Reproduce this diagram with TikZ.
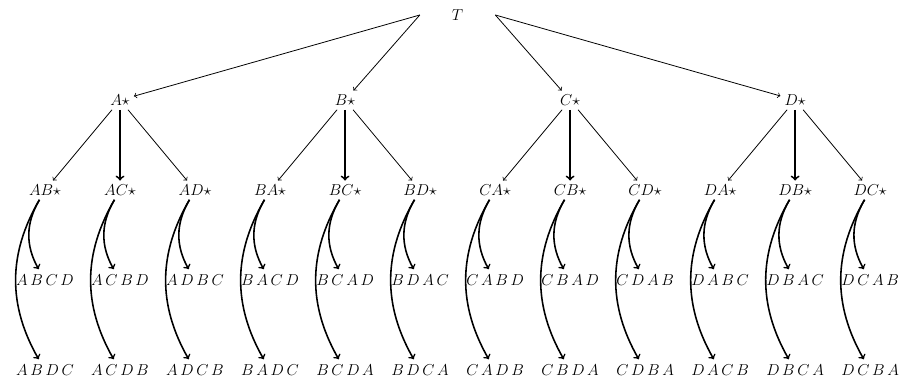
\documentclass[tikz,border=0pt]{standalone}
\usepackage{amssymb}
\usepackage{amsmath}
\usepackage{tikz}
\usetikzlibrary{arrows,calc,positioning}
\tikzset{%
	root/.style     = {minimum width=2cm, inner sep=1pt, font=\wfont}, % top
	part/.style     = {inner sep=3pt, font=\wfont}, % partial word
	full/.style     = {inner sep=4pt, font=\wfont}, % complete word
	branch/.style   = {->, semithick},
	mid/.style      = {->, line width=1.4pt},
	leaf/.style     = {->, line width=1.2pt},
}
\newcommand{\wfont}{\fontsize{12.5pt}{15pt}\selectfont}
\newcommand{\wrd}[4]{$#1\,#2\,#3\,#4$}

\begin{document}
\begin{tikzpicture}[node distance=2cm,>={to[scale=1.4]}]
	\useasboundingbox (-1.2,-5.06) rectangle (22.85,5.07);
	% second row
	\node [part] (ab) {$AB\star$};
	\node [part] (ac) [right of=ab] {$AC\star$};
	\node [part] (ad) [right of=ac] {$AD\star$};
	\node [part] (ba) [right of=ad] {$BA\star$};
	\node [part] (bc) [right of=ba] {$BC\star$};
	\node [part] (bd) [right of=bc] {$BD\star$};
	\node [part] (ca) [right of=bd] {$CA\star$};
	\node [part] (cb) [right of=ca] {$CB\star$};
	\node [part] (cd) [right of=cb] {$CD\star$};
	\node [part] (da) [right of=cd] {$DA\star$};
	\node [part] (db) [right of=da] {$DB\star$};
	\node [part] (dc) [right of=db] {$DC\star$};
	% first row
	\node [part] (a) [above of=ac,node distance=2.4cm] {$A\star$};
	\node [part] (b) [above of=bc,node distance=2.4cm] {$B\star$};
	\node [part] (c) [above of=cb,node distance=2.4cm] {$C\star$};
	\node [part] (d) [above of=db,node distance=2.4cm] {$D\star$};
	\node [root] (t) at ($(b)!0.5!(c)+(0,2.27)$) {$T$};
	% words
	\node [full] (abcd) [below of=ab,node distance=2.4cm] {\wrd ABCD};
	\node [full] (acbd) [below of=ac,node distance=2.4cm] {\wrd ACBD};
	\node [full] (adbc) [below of=ad,node distance=2.4cm] {\wrd ADBC};
	\node [full] (bacd) [below of=ba,node distance=2.4cm] {\wrd BACD};
	\node [full] (bcad) [below of=bc,node distance=2.4cm] {\wrd BCAD};
	\node [full] (bdac) [below of=bd,node distance=2.4cm] {\wrd BDAC};
	\node [full] (cabd) [below of=ca,node distance=2.4cm] {\wrd CABD};
	\node [full] (cbad) [below of=cb,node distance=2.4cm] {\wrd CBAD};
	\node [full] (cdab) [below of=cd,node distance=2.4cm] {\wrd CDAB};
	\node [full] (dabc) [below of=da,node distance=2.4cm] {\wrd DABC};
	\node [full] (dbac) [below of=db,node distance=2.4cm] {\wrd DBAC};
	\node [full] (dcab) [below of=dc,node distance=2.4cm] {\wrd DCAB};
	\node [full] (abdc) [below of=abcd,node distance=2.4cm] {\wrd ABDC};
	\node [full] (acdb) [below of=acbd,node distance=2.4cm] {\wrd ACDB};
	\node [full] (adcb) [below of=adbc,node distance=2.4cm] {\wrd ADCB};
	\node [full] (badc) [below of=bacd,node distance=2.4cm] {\wrd BADC};
	\node [full] (bcda) [below of=bcad,node distance=2.4cm] {\wrd BCDA};
	\node [full] (bdca) [below of=bdac,node distance=2.4cm] {\wrd BDCA};
	\node [full] (cadb) [below of=cabd,node distance=2.4cm] {\wrd CADB};
	\node [full] (cbda) [below of=cbad,node distance=2.4cm] {\wrd CBDA};
	\node [full] (cdba) [below of=cdab,node distance=2.4cm] {\wrd CDBA};
	\node [full] (dacb) [below of=dabc,node distance=2.4cm] {\wrd DACB};
	\node [full] (dbca) [below of=dbac,node distance=2.4cm] {\wrd DBCA};
	\node [full] (dcba) [below of=dcab,node distance=2.4cm] {\wrd DCBA};
	
	\draw[branch] (t.west) -- (a);
	\draw[branch] (t.west) -- (b);
	\draw[branch] (t.east) -- (c);
	\draw[branch] (t.east) -- (d);
	\draw[branch] (a) -- (ab);
	\draw[mid] (a) -- (ac);
	\draw[branch] (a) -- (ad);
	\draw[branch] (b) -- (ba);
	\draw[mid] (b) -- (bc);
	\draw[branch] (b) -- (bd);
	\draw[branch] (c) -- (ca);
	\draw[mid] (c) -- (cb);
	\draw[branch] (c) -- (cd);
	\draw[branch] (d) -- (da);
	\draw[mid] (d) -- (db);
	\draw[branch] (d) -- (dc);
	\draw[leaf] (ab) to[bend right] (abcd);
	\draw[leaf] (ab) to[bend right] (abdc);
	\draw[leaf] (ac) to[bend right] (acbd);
	\draw[leaf] (ac) to[bend right] (acdb);
	\draw[leaf] (ad) to[bend right] (adbc);
	\draw[leaf] (ad) to[bend right] (adcb);
	\draw[leaf] (ba) to[bend right] (bacd);
	\draw[leaf] (ba) to[bend right] (badc);
	\draw[leaf] (bc) to[bend right] (bcad);
	\draw[leaf] (bc) to[bend right] (bcda);
	\draw[leaf] (bd) to[bend right] (bdac);
	\draw[leaf] (bd) to[bend right] (bdca);
	\draw[leaf] (ca) to[bend right] (cabd);
	\draw[leaf] (ca) to[bend right] (cadb);
	\draw[leaf] (cb) to[bend right] (cbad);
	\draw[leaf] (cb) to[bend right] (cbda);
	\draw[leaf] (cd) to[bend right] (cdab);
	\draw[leaf] (cd) to[bend right] (cdba);
	\draw[leaf] (da) to[bend right] (dabc);
	\draw[leaf] (da) to[bend right] (dacb);
	\draw[leaf] (db) to[bend right] (dbac);
	\draw[leaf] (db) to[bend right] (dbca);
	\draw[leaf] (dc) to[bend right] (dcab);
	\draw[leaf] (dc) to[bend right] (dcba);
\end{tikzpicture}
\end{document}
